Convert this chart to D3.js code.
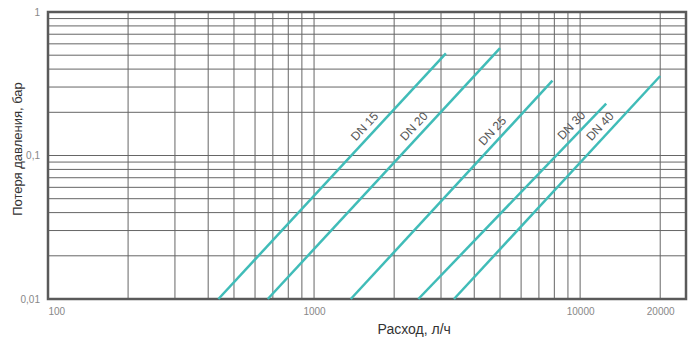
<!DOCTYPE html>
<html>
<head>
<meta charset="utf-8">
<script src="https://cdn.jsdelivr.net/npm/d3@7"></script>
<style>
  body { margin: 0; background: #fff; }
  svg { font-family: "Liberation Sans", Arial, sans-serif; }
  .grid line { stroke: #666; stroke-width: 1; }
  .axis path, .axis line { display: none; }
  .axis text { fill: #888; font-size: 10px; }
  .curve { fill: none; stroke: #40bcb8; stroke-width: 2.5; }
  .dn-label { fill: #555; font-size: 12px; }
</style>
</head>
<body>
<svg class="pressure-chart" width="695" height="338"></svg>
<script>
// series names and end points: [flow l/h, pressure drop bar]
const seriesNames = ["DN 15", "DN 20", "DN 25", "DN 30", "DN 40"];
const startPoints = [[437, 0.01], [670, 0.01], [1374, 0.01], [2466, 0.01], [3357, 0.01]];
const endPoints = [[3130, 0.515], [5000, 0.56], [7870, 0.332], [12530, 0.23], [20000, 0.358]];
// pressure drop at which each label sits next to its line
const labelDrops = [0.143, 0.143, 0.133, 0.145, 0.143];

const xTicks = [100, 1000, 10000, 20000];
const xTickLabels = ["100", "1000", "10000", "20000"];
const yTicks = [0.01, 0.1, 1];
const yTickLabels = ["0,01", "0,1", "1"];
const xGrid = [100, 200, 300, 400, 500, 600, 700, 800, 900,
               1000, 2000, 3000, 4000, 5000, 6000, 7000, 8000, 9000, 10000, 20000];
const yGrid = [0.01, 0.02, 0.03, 0.04, 0.05, 0.06, 0.07, 0.08, 0.09,
               0.1, 0.2, 0.3, 0.4, 0.5, 0.6, 0.7, 0.8, 0.9, 1];

function drawChart() {
    const svg = d3.select("svg.pressure-chart");
    const margin = {top: 12, right: 9, bottom: 39, left: 48};
    const width = +svg.attr("width") - margin.left - margin.right;
    const height = +svg.attr("height") - margin.top - margin.bottom;
    const g = svg.append("g").attr("transform", `translate(${margin.left}, ${margin.top})`);

    const x = d3.scaleLog().domain([100, 25000]).range([0, width]);
    const y = d3.scaleLog().domain([0.01, 1]).range([height, 0]);

    // grid
    const grid = g.append("g").attr("class", "grid");
    grid.selectAll(".vx").data(xGrid).join("line")
        .attr("x1", d => x(d)).attr("x2", d => x(d))
        .attr("y1", 0).attr("y2", height);
    grid.selectAll(".hy").data(yGrid).join("line")
        .attr("class", "hy")
        .attr("x1", 0).attr("x2", width)
        .attr("y1", d => y(d)).attr("y2", d => y(d));

    // frame
    g.append("rect")
        .attr("width", width).attr("height", height)
        .attr("fill", "none").attr("stroke", "#5a5a5a").attr("stroke-width", 2.5);

    // axes
    const xAxis = g.append("g")
        .attr("class", "axis axis--x")
        .attr("transform", `translate(0, ${height})`)
        .call(d3.axisBottom(x).tickValues(xTicks).tickSize(0).tickPadding(9)
            .tickFormat((d, i) => xTickLabels[i]));
    xAxis.selectAll("text").filter(d => d === 100).attr("text-anchor", "start");

    g.append("g")
        .attr("class", "axis axis--y")
        .call(d3.axisLeft(y).tickValues(yTicks).tickSize(0).tickPadding(8)
            .tickFormat((d, i) => yTickLabels[i]));

    // curves
    const line = d3.line().x(d => x(d[0])).y(d => y(d[1]));
    const series = seriesNames.map((name, i) => ({name, points: [startPoints[i], endPoints[i]], labelDrop: labelDrops[i]}));

    g.selectAll(".curve").data(series).join("path")
        .attr("class", "curve")
        .attr("d", d => line(d.points));

    // labels along each line
    g.selectAll(".dn-label").data(series).join("text")
        .attr("class", "dn-label")
        .attr("transform", d => {
            const [p0, p1] = d.points;
            const t = (Math.log(d.labelDrop) - Math.log(p0[1])) / (Math.log(p1[1]) - Math.log(p0[1]));
            const q = Math.exp(Math.log(p0[0]) + t * (Math.log(p1[0]) - Math.log(p0[0])));
            const angle = Math.atan2(y(p1[1]) - y(p0[1]), x(p1[0]) - x(p0[0])) * 180 / Math.PI;
            return `translate(${x(q)}, ${y(d.labelDrop)}) rotate(${angle})`;
        })
        .attr("text-anchor", "middle")
        .attr("dy", "-0.5em")
        .text(d => d.name);

    // axis titles
    svg.append("text")
        .attr("x", margin.left + x(2380))
        .attr("y", 334)
        .attr("text-anchor", "middle")
        .attr("fill", "#333")
        .attr("font-size", "14px")
        .text("Расход, л/ч");

    svg.append("text")
        .attr("transform", "translate(22, 149) rotate(-90)")
        .attr("text-anchor", "middle")
        .attr("fill", "#333")
        .attr("font-size", "13px")
        .text("Потеря давления, бар");
}

drawChart();
</script>
</body>
</html>
